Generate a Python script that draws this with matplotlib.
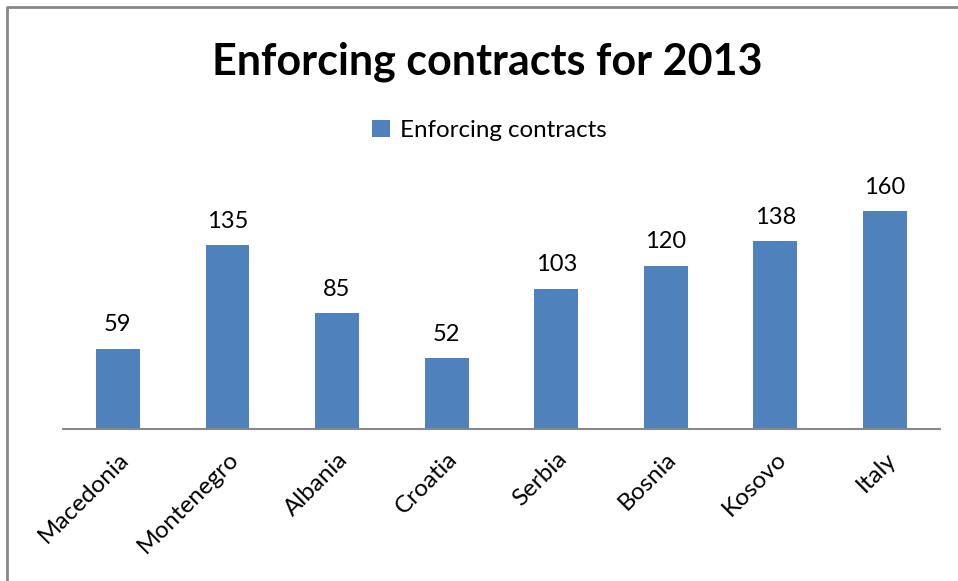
import matplotlib.pyplot as plt
from matplotlib.lines import Line2D

countries = ["Macedonia", "Montenegro", "Albania", "Croatia",
             "Serbia", "Bosnia", "Kosovo", "Italy"]
ranks = [59, 135, 85, 52, 103, 120, 138, 160]

BAR_COLOR = "#4F81BD"
plt.rcParams['font.family'] = ['Lato', 'DejaVu Sans']

fig = plt.figure(figsize=(9.58, 5.81), dpi=100)
ax = fig.add_axes([0.0658, 0.2616, 0.9152, 0.4217])

x = range(len(countries))
bars = ax.bar(x, ranks, width=0.4, color=BAR_COLOR, label="Enforcing contracts")
for b, v in zip(bars, ranks):
    ax.text(b.get_x() + b.get_width() / 2, v + 10, str(v),
            ha='center', va='bottom', fontsize=17)

ax.set_xlim(-0.5, len(countries) - 0.5)
ax.set_ylim(0, 180)
ax.set_yticks([])
ax.set_xticks(list(x))
ax.set_xticklabels(countries, rotation=45, ha='right', rotation_mode='anchor',
                   fontsize=17.5)
ax.tick_params(axis='x', length=0, pad=14)
for side in ['top', 'right', 'left']:
    ax.spines[side].set_visible(False)
ax.spines['bottom'].set_color('#888888')
ax.spines['bottom'].set_linewidth(1.5)

fig.text(0.509, 0.894, "Enforcing contracts for 2013", ha='center', va='center',
         fontsize=31, fontweight='bold')
fig.legend(handles=[bars], labels=["Enforcing contracts"], loc='center',
           bbox_to_anchor=(0.511, 0.776), frameon=False, fontsize=17.4,
           handlelength=0.75, handleheight=0.75, handletextpad=0.4)

# chart frame, left and top edges
fig.add_artist(Line2D([6.5 / 958, 6.5 / 958, 1], [0, 1 - 6.5 / 581, 1 - 6.5 / 581],
                      transform=fig.transFigure, color='#888888', linewidth=2))

fig.savefig("out.png", dpi=100)
